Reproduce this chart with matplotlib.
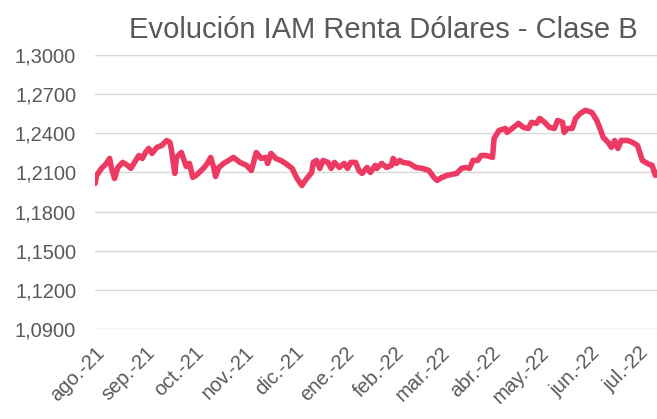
import matplotlib
matplotlib.use('Agg')
import matplotlib.pyplot as plt
import pandas as pd
from matplotlib.ticker import FuncFormatter

# =========================
# Data
# =========================
dates = [
    '2021-08-01', '2021-08-02', '2021-08-05', '2021-08-08', '2021-08-10', '2021-08-11',
    '2021-08-13', '2021-08-15', '2021-08-18', '2021-08-21', '2021-08-23', '2021-08-26',
    '2021-08-28', '2021-08-30', '2021-09-01', '2021-09-03', '2021-09-05', '2021-09-08',
    '2021-09-11', '2021-09-14', '2021-09-16', '2021-09-17', '2021-09-19', '2021-09-20',
    '2021-09-23', '2021-09-26', '2021-09-28', '2021-09-30', '2021-10-02', '2021-10-04',
    '2021-10-07', '2021-10-09', '2021-10-11', '2021-10-13', '2021-10-14', '2021-10-16',
    '2021-10-19', '2021-10-22', '2021-10-25', '2021-10-29', '2021-11-02', '2021-11-05',
    '2021-11-08', '2021-11-11', '2021-11-14', '2021-11-15', '2021-11-17', '2021-11-20',
    '2021-11-23', '2021-11-26', '2021-11-30', '2021-12-03', '2021-12-06', '2021-12-09',
    '2021-12-12', '2021-12-13', '2021-12-15', '2021-12-17', '2021-12-19', '2021-12-22',
    '2021-12-24', '2021-12-26', '2021-12-29', '2022-01-01', '2022-01-03', '2022-01-05',
    '2022-01-08', '2022-01-10', '2022-01-12', '2022-01-15', '2022-01-17', '2022-01-20',
    '2022-01-21', '2022-01-24', '2022-01-27', '2022-01-30', '2022-01-31', '2022-02-02',
    '2022-02-04', '2022-02-06', '2022-02-10', '2022-02-14', '2022-02-18', '2022-02-22',
    '2022-02-25', '2022-02-27', '2022-03-02', '2022-03-05', '2022-03-08', '2022-03-11',
    '2022-03-14', '2022-03-17', '2022-03-19', '2022-03-21', '2022-03-24', '2022-03-26',
    '2022-03-29', '2022-04-02', '2022-04-03', '2022-04-06', '2022-04-10', '2022-04-11',
    '2022-04-14', '2022-04-18', '2022-04-21', '2022-04-24', '2022-04-26', '2022-04-29',
    '2022-05-01', '2022-05-04', '2022-05-07', '2022-05-10', '2022-05-12', '2022-05-15',
    '2022-05-16', '2022-05-18', '2022-05-21', '2022-05-23', '2022-05-26', '2022-05-29',
    '2022-06-02', '2022-06-05', '2022-06-07', '2022-06-09', '2022-06-12', '2022-06-14',
    '2022-06-16', '2022-06-18', '2022-06-20', '2022-06-24', '2022-06-27', '2022-06-30',
    '2022-07-03', '2022-07-06', '2022-07-09', '2022-07-11', '2022-07-12',
]

values = [
    1.2015, 1.2077, 1.2131, 1.2169, 1.2207, 1.2138,
    1.2054, 1.2138, 1.2177, 1.2154, 1.2131, 1.2192,
    1.2230, 1.2207, 1.2253, 1.2284, 1.2246, 1.2292,
    1.2307, 1.2345, 1.2330, 1.2269, 1.2092, 1.2215,
    1.2253, 1.2146, 1.2169, 1.2062, 1.2077, 1.2100,
    1.2138, 1.2169, 1.2215, 1.2131, 1.2069, 1.2138,
    1.2169, 1.2192, 1.2215, 1.2177, 1.2154, 1.2115,
    1.2253, 1.2207, 1.2215, 1.2169, 1.2246, 1.2207,
    1.2192, 1.2169, 1.2131, 1.2054, 1.2000, 1.2054,
    1.2100, 1.2177, 1.2192, 1.2131, 1.2192, 1.2177,
    1.2131, 1.2177, 1.2138, 1.2169, 1.2131, 1.2177,
    1.2177, 1.2115, 1.2092, 1.2138, 1.2100, 1.2154,
    1.2131, 1.2169, 1.2138, 1.2154, 1.2207, 1.2169,
    1.2192, 1.2177, 1.2169, 1.2138, 1.2131, 1.2115,
    1.2062, 1.2039, 1.2062, 1.2077, 1.2085, 1.2092,
    1.2131, 1.2138, 1.2131, 1.2192, 1.2192, 1.2230,
    1.2230, 1.2215, 1.2361, 1.2422, 1.2437, 1.2407,
    1.2437, 1.2476, 1.2445, 1.2437, 1.2484, 1.2476,
    1.2514, 1.2484, 1.2445, 1.2437, 1.2499, 1.2484,
    1.2407, 1.2437, 1.2437, 1.2514, 1.2553, 1.2576,
    1.2560, 1.2499, 1.2437, 1.2368, 1.2330, 1.2292,
    1.2345, 1.2284, 1.2345, 1.2345, 1.2330, 1.2307,
    1.2192, 1.2169, 1.2154, 1.2077, 1.2100,
]

month_ticks = ['2021-08-01', '2021-09-01', '2021-10-01', '2021-11-01', '2021-12-01',
               '2022-01-01', '2022-02-01', '2022-03-01', '2022-04-01', '2022-05-01',
               '2022-06-01', '2022-07-01']
month_labels = ['ago.-21', 'sep.-21', 'oct.-21', 'nov.-21', 'dic.-21', 'ene.-22',
                'feb.-22', 'mar.-22', 'abr.-22', 'may.-22', 'jun.-22', 'jul.-22']
y_ticks = [1.09, 1.12, 1.15, 1.18, 1.21, 1.24, 1.27, 1.30]

title = 'Evolución IAM Renta Dólares - Clase B'

# =========================
# Plot
# =========================
plt.rcParams['font.family'] = ['Liberation Sans', 'DejaVu Sans']

x = pd.to_datetime(dates)

fig = plt.figure(figsize=(6.57, 4.19), dpi=100)
ax = fig.add_axes([95 / 657, 1 - 329 / 419, 1 - 95 / 657, (329 - 55) / 419])

ax.plot(x, values, color='#EC3A62', linewidth=4.0,
        solid_joinstyle='round', solid_capstyle='round', zorder=3)

ax.set_ylim(1.09, 1.30)
ax.set_xlim(pd.Timestamp('2021-08-01'), pd.Timestamp('2022-07-12'))

ax.set_yticks(y_ticks)
ax.yaxis.set_major_formatter(FuncFormatter(lambda v, p: f'{v:.4f}'.replace('.', ',')))
ax.set_xticks(pd.to_datetime(month_ticks))
ax.set_xticklabels(month_labels, rotation=45, ha='right', va='top',
                   rotation_mode='anchor')

ax.grid(axis='y', color='#D9D9D9', linewidth=1.0)
ax.set_axisbelow(True)
for s in ax.spines.values():
    s.set_visible(False)
ax.tick_params(axis='both', length=0, labelsize=14.5, colors='#595959')
ax.tick_params(axis='y', pad=13.5)
ax.tick_params(axis='x', pad=10)

fig.text(383 / 657, 1 - 30 / 419, title, ha='center', va='center',
         fontsize=21, color='#595959')

fig.savefig('out.png', dpi=100)
